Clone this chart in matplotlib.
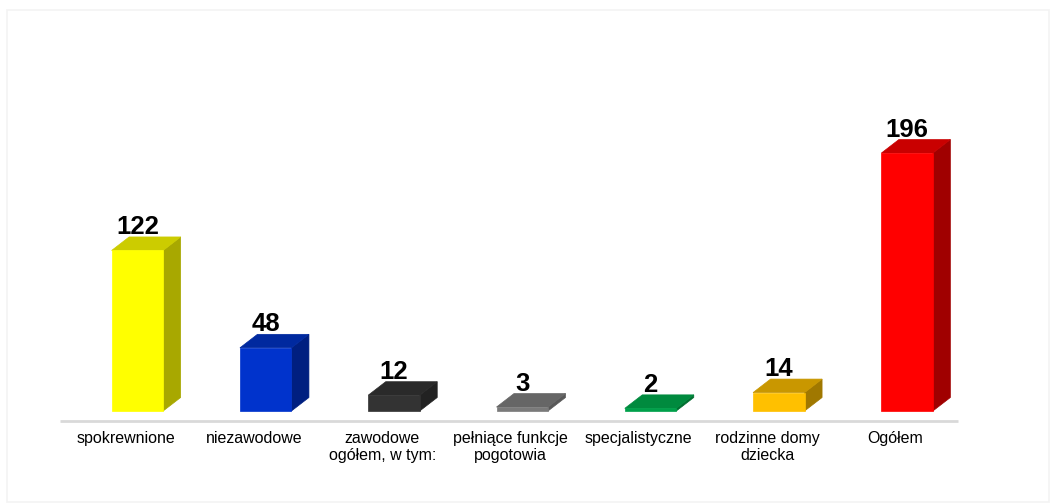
import matplotlib
matplotlib.use("Agg")
import matplotlib.pyplot as plt
from matplotlib.patches import Polygon, Rectangle

categories = ["spokrewnione", "niezawodowe", "zawodowe\nogółem, w tym:",
              "pełniące funkcje\npogotowia", "specjalistyczne",
              "rodzinne domy\ndziecka", "Ogółem"]
values = [122, 48, 12, 3, 2, 14, 196]
front_colors = ["#FFFF00", "#0033CC", "#333333", "#7A7A7A", "#00A04A", "#FFC000", "#FF0000"]
top_colors = ["#CCCC00", "#00299F", "#2A2A2A", "#666666", "#008A3E", "#C99700", "#C90000"]
side_colors = ["#A8A800", "#001F80", "#222222", "#585858", "#006E30", "#A07800", "#A00000"]

W, H = 1051, 503
fig = plt.figure(figsize=(W / 100, H / 100), dpi=100)
fig.patch.set_facecolor("white")

# frame around chart
fig.patches.append(Rectangle((7 / W, 1 / H), (W - 9) / W, (H - 11) / H,
                             transform=fig.transFigure, fill=False,
                             edgecolor="#F3F3F3", linewidth=1.2))

ax_left, ax_right = 60, 958
ax_base, ax_top = 411, 30
ax = fig.add_axes([ax_left / W, (H - ax_base) / H, (ax_right - ax_left) / W, (ax_base - ax_top) / H])
n = len(categories)
px_per_unit = 1.316
ax.set_xlim(-0.5, n - 0.5)
ax.set_ylim(0, (ax_base - ax_top) / px_per_unit)
ax.axis("off")

slot_px = (ax_right - ax_left) / n
front_l = -12.5 / slot_px
front_r = 39.0 / slot_px
dx = 17.5 / slot_px
dy = 13.5 / px_per_unit

for i, (v, fc, tc, sc) in enumerate(zip(values, front_colors, top_colors, side_colors)):
    x0, x1 = i + front_l, i + front_r
    # side
    ax.add_patch(Polygon([(x1, 0), (x1 + dx, dy), (x1 + dx, v + dy), (x1, v)],
                         closed=True, facecolor=sc, edgecolor=sc, linewidth=0.5, clip_on=False))
    # top
    ax.add_patch(Polygon([(x0, v), (x1, v), (x1 + dx, v + dy), (x0 + dx, v + dy)],
                         closed=True, facecolor=tc, edgecolor=tc, linewidth=0.5, clip_on=False))
    # front
    ax.add_patch(Rectangle((x0, 0), x1 - x0, v, facecolor=fc, edgecolor=fc,
                           linewidth=0.5, clip_on=False))
    ax.text((x0 + x1) / 2, v + dy + 3 / px_per_unit, str(v), ha="center", va="baseline",
            fontsize=18.5, fontweight="bold", family="Liberation Sans", color="black")
    ax.text(i + 1.5 / slot_px, -20 / px_per_unit, categories[i], ha="center", va="top",
            fontsize=11.5, family="Liberation Sans", color="black", linespacing=1.15)

# floor front edge
ax.plot([-0.5, n - 0.5], [-10 / px_per_unit] * 2, color="#D9D9D9", linewidth=2,
        clip_on=False, solid_capstyle="butt")

fig.savefig("out.png", dpi=100, facecolor="white")
